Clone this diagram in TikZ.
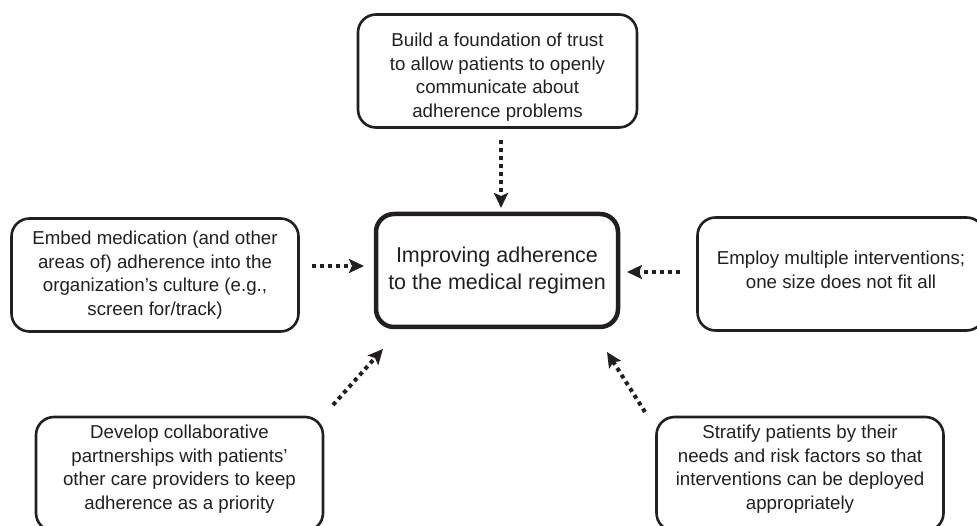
\documentclass[tikz,border=0pt]{standalone}
\usepackage{fontspec}
\setmainfont{Liberation Sans}
\usetikzlibrary{arrows.meta}
\definecolor{ink}{HTML}{231F20}
\begin{document}
\begin{tikzpicture}[x=1pt,y=-1pt,
  idea/.style={draw=ink, line width=2.6pt, rounded corners=18pt, inner sep=0pt,
    minimum width=287pt, minimum height=113pt},
  words/.style={align=center, text=ink, inner sep=0pt,
    font=\fontsize{18.7}{23.6}\selectfont},
  says/.style 2 args={label={[words, yshift=#1]center:{#2}}},
  hub/.style={draw=ink, line width=4.5pt, rounded corners=18pt, align=center,
    text=ink, font=\fontsize{21.5}{27}\selectfont, inner sep=0pt,
    minimum width=242pt, minimum height=113pt},
  link/.style={draw=ink, line width=4pt, dash pattern=on 4pt off 4pt,
    -{Stealth[length=15pt,width=14pt,inset=3pt]}},
]
\clip (0,0) rectangle (977,526);
\useasboundingbox (0,0) rectangle (977,526);

% central goal
\node[hub] (goal) at (497,270.5) {Improving adherence\\to the medical regimen};

% surrounding strategies
\node[idea, minimum width=279pt, says={-6pt}{Build a foundation of trust\\to allow patients to openly\\communicate about\\adherence problems}]
  (trust) at (497.5,71) {};
\node[idea, says={0pt}{Embed medication (and other\\areas of) adherence into the\\organization’s culture (e.g.,\\screen for/track)}]
  (embed) at (155,275) {};
\node[idea, says={4pt}{Employ multiple interventions;\\one size does not fit all}]
  (multi) at (841,274) {};
\node[idea, minimum height=114pt, says={5pt}{Develop collaborative\\partnerships with patients’\\other care providers to keep\\adherence as a priority}]
  (collab) at (179.5,474) {};
\node[idea, minimum height=114pt, says={5pt}{Stratify patients by their\\needs and risk factors so that\\interventions can be deployed\\appropriately}]
  (strat) at (800,474) {};

% free ends of the dotted connectors
\coordinate (trustOut) at (501,140);
\coordinate (trustIn)  at (501,208);
\coordinate (embedOut) at (312,266);
\coordinate (embedIn)  at (364,266);
\coordinate (multiOut) at (680,272);
\coordinate (multiIn)  at (627,272);
\coordinate (collabOut) at (333,405);
\coordinate (collabIn)  at (383,349);
\coordinate (stratOut) at (645,412);
\coordinate (stratIn)  at (607,352);

\draw[link] (trustOut) -- (trustIn);
\draw[link] (embedOut) -- (embedIn);
\draw[link] (multiOut) -- (multiIn);
\draw[link] (collabOut) -- (collabIn);
\draw[link] (stratOut) -- (stratIn);
\end{tikzpicture}
\end{document}
